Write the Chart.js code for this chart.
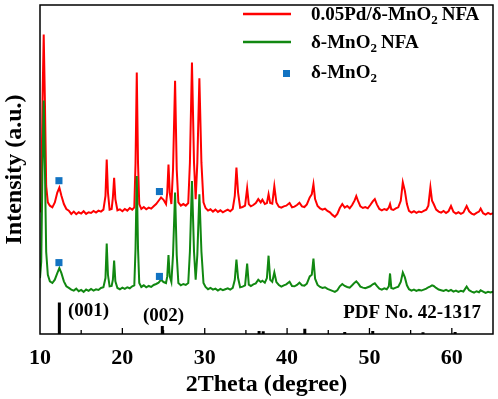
<!DOCTYPE html>
<html>
<head>
<meta charset="utf-8">
<script src="https://cdn.jsdelivr.net/npm/chart.js@4.4.1/dist/chart.umd.min.js"></script>
<style>
  html, body { margin: 0; padding: 0; background: #fff; }
  #wrap { width: 498px; height: 399px; }
</style>
</head>
<body>
<div id="wrap"><canvas id="xrdChart" width="498" height="399"></canvas></div>
<script>
  // 2θ grid (degree)
  const twoTheta = [
    10.0, 10.15, 10.3, 10.45, 10.6, 10.75, 10.95, 11.2, 11.5, 11.8,
    12.1, 12.35, 12.6, 12.9, 13.2, 13.5, 13.8, 14.1, 14.4, 14.7,
    15.0, 15.3, 15.6, 15.9, 16.2, 16.5, 16.8, 17.1, 17.4, 17.7,
    17.95, 18.1, 18.25, 18.45, 18.7, 18.85, 19.0, 19.15, 19.4, 19.7,
    20.0, 20.3, 20.6, 20.9, 21.2, 21.45, 21.6, 21.75, 21.9, 22.05,
    22.3, 22.6, 22.9, 23.2, 23.5, 23.8, 24.1, 24.4, 24.7, 25.0,
    25.3, 25.45, 25.6, 25.75, 25.95, 26.15, 26.4, 26.6, 26.8, 27.1,
    27.4, 27.7, 28.0, 28.2, 28.45, 28.7, 28.9, 29.1, 29.35, 29.6,
    29.85, 30.1, 30.4, 30.7, 31.0, 31.3, 31.6, 31.9, 32.2, 32.5,
    32.8, 33.1, 33.4, 33.65, 33.85, 34.05, 34.3, 34.6, 34.9, 35.15,
    35.35, 35.6, 35.9, 36.2, 36.5, 36.8, 37.0, 37.3, 37.55, 37.75,
    37.95, 38.2, 38.45, 38.7, 39.0, 39.3, 39.6, 39.9, 40.3, 40.6,
    40.9, 41.2, 41.5, 41.8, 42.1, 42.4, 42.75, 43.0, 43.2, 43.4,
    43.7, 44.0, 44.3, 44.6, 44.9, 45.2, 45.5, 45.8, 46.1, 46.4,
    46.7, 47.0, 47.3, 47.6, 47.9, 48.2, 48.4, 48.65, 48.9, 49.2,
    49.5, 49.8, 50.1, 50.4, 50.65, 50.9, 51.2, 51.5, 51.8, 52.1,
    52.35, 52.5, 52.65, 52.9, 53.2, 53.5, 53.8, 54.05, 54.3, 54.55,
    54.8, 55.1, 55.4, 55.7, 56.0, 56.3, 56.6, 56.9, 57.15, 57.4,
    57.6, 57.8, 58.1, 58.4, 58.7, 59.0, 59.3, 59.6, 59.9, 60.2,
    60.5, 60.8, 61.1, 61.4, 61.8, 62.1, 62.4, 62.7, 63.0, 63.3,
    63.5, 63.8, 64.1, 64.4, 64.7, 65.0
  ];

  // 0.05Pd/δ-MnO2 NFA (offset upward)
  const pdIntensity = [
    37, 40, 70, 91, 70, 45, 40, 39, 38.5, 40,
    43, 44.5, 42, 39.5, 38, 37.5, 36.5, 37.2, 36.4, 37,
    36.6, 37.3, 36.5, 37, 36.8, 37.4, 36.9, 37.5, 37.2, 37.8,
    42, 53, 43, 37.8, 38, 41.5, 47.5, 41, 37.6, 37.9,
    37.3, 38, 37.5, 38.3, 37.8, 38.5, 52, 79.5, 52, 39.5,
    38, 38.6, 37.9, 38.4, 38.1, 38.8, 39.5, 40.5, 41.5, 40.8,
    39.5, 43, 51.5, 43, 39.5, 50, 77, 50, 40, 39,
    39.5, 39, 39.8, 52, 82.5, 52, 41, 52, 77.7, 52,
    40, 38.3, 37.5, 37.9, 37.2, 37.8, 37.1, 37.6, 37, 37.4,
    37.8, 37.3, 38, 42, 50.6, 43, 38.4, 38.6, 39, 44.3,
    39.5, 38.8, 39.2, 39.8, 41, 40, 40.8, 39.5, 39.8, 42.5,
    39.8, 39.6, 44.9, 40, 38.7, 38.4, 38.8, 39, 39.8, 38.5,
    38.7, 39.2, 39.9, 38.8, 38.6, 39.4, 41.5, 42.5, 45.5, 41,
    38.9, 38.2, 37.8, 38.1, 37.4, 37, 36.2, 35.6, 36.5, 38.3,
    39.5, 38.4, 38.9, 38.2, 39.2, 40.6, 41.9, 40.2, 38.8, 38.3,
    38.6, 38.2, 39.2, 40.3, 41, 39.4, 38, 37.6, 38, 37.7,
    38.4, 39.5, 37.9, 37.7, 38.2, 38.5, 40.5, 46.1, 43.5, 39.5,
    37.4, 36.9, 37.3, 36.8, 37.2, 37, 37.4, 37.8, 39, 44.6,
    40.5, 39.5, 37.8, 37.2, 36.9, 37.4, 36.8, 37.3, 38.9, 37.1,
    36.6, 37, 36.5, 36.9, 38.9, 37.3, 36.6, 36.3, 36.8, 37.2,
    38.1, 36.7, 36.3, 36.8, 36.4, 36.7
  ];

  // δ-MnO2 NFA
  const mnIntensity = [
    17, 22, 50, 71, 50, 25, 18, 16, 15.5, 16.5,
    18.5, 20, 18.5, 16, 14.5, 14, 13.5, 13.2, 13.8, 13,
    13.4, 12.8, 13.5, 13.1, 13.7, 13.2, 13.6, 13.4, 14, 14.2,
    17, 27.5, 18, 14.5, 14.6, 16.5, 22.3, 16, 14, 13.6,
    14.1, 13.7, 14.2, 13.9, 14.5, 14.8, 26, 48, 26, 15.5,
    14.3, 14.8, 14.2, 14.6, 14.3, 14.9, 15.2, 15.6, 16.5, 15.8,
    15.5, 17.5, 24, 17.5, 15.8, 24, 43, 24, 15.5, 14.8,
    15.2, 14.9, 15.5, 25, 46.5, 25, 16.5, 24, 42.5, 25,
    15.5, 14.3, 13.6, 14, 13.5, 13.8, 13.2, 13.7, 13.3, 13.6,
    13.9, 13.5, 14, 16.5, 22.6, 17, 14.2, 14.4, 14.8, 21.4,
    15, 14.6, 15.1, 15.4, 16.5, 15.8, 16.2, 15.6, 17, 23.8,
    16.5, 15.9, 18.7, 15.8, 14.9, 14.4, 14.8, 15.1, 15.9, 14.6,
    14.5, 14.9, 15.6, 14.8, 14.7, 15.3, 17.5, 18, 22.9, 16.8,
    14.9, 14.3, 14, 14.2, 13.7, 13.4, 13.1, 12.8, 13.3, 14.5,
    15.2, 14.6, 14.3, 14.1, 14.8, 15.6, 16, 15.3, 14.4, 14.1,
    13.9, 14.2, 14.5, 15.1, 15.4, 14.6, 13.8, 13.5, 13.9, 13.6,
    14.5, 18.4, 14, 13.8, 14.1, 14.4, 15.8, 18.7, 17.2, 14.8,
    13.6, 13.2, 13.5, 13.1, 13.4, 13.2, 13.5, 13.8, 14.2, 14.5,
    14.8, 14.6, 14, 13.5, 13.3, 13.1, 13.4, 13, 13.4, 12.9,
    13.2, 12.8, 13.1, 12.9, 14.4, 13.3, 12.9, 12.6, 13, 12.7,
    13.3, 12.9, 12.5, 12.8, 12.6, 12.9
  ];

  // PDF No. 42-1317 reference lines
  const pdfPositions = [12.35, 24.85, 36.6, 37.1, 42.15, 47.0, 50.4, 56.5, 60.4];
  const pdfHeights = [9.6, 2.4, 0.9, 0.8, 1.6, 0.6, 0.9, 0.5, 0.6];

  // δ-MnO2 markers
  const markerTheta = [12.3, 24.5, 12.3, 24.5];
  const markerIntensity = [46.6, 43.3, 21.7, 17.5];

  const seriesNames = ['0.05Pd/δ-MnO', 'δ-MnO', 'δ-MnO'];
  const xTickValues = [10, 20, 30, 40, 50, 60];

  const RED = '#ff0000';
  const GREEN = '#118811';
  const BLUE = '#1273c2';
  const SERIF = '"Liberation Serif", "Times New Roman", serif';

  const toPoints = (xs, ys) => xs.map((x, i) => ({ x: x, y: ys[i] }));
  let pdfPoints = [];
  pdfPositions.forEach((p, i) => {
    pdfPoints.push({ x: p, y: 0 }, { x: p, y: pdfHeights[i] }, { x: p, y: null });
  });

  // frame, inward ticks, annotations and legend
  const decor = {
    id: 'decor',
    afterDraw(chart) {
      const ctx = chart.ctx;
      const a = chart.chartArea;
      const xs = chart.scales.x;
      ctx.save();
      ctx.strokeStyle = '#000';
      ctx.lineWidth = 1.5;
      ctx.strokeRect(a.left, a.top, a.right - a.left, a.bottom - a.top);

      ctx.lineWidth = 1.3;
      for (let v = 15; v < 65; v += 5) {
        const px = xs.getPixelForValue(v);
        const len = v % 10 === 0 ? 6 : 4;
        ctx.beginPath();
        ctx.moveTo(px, a.bottom);
        ctx.lineTo(px, a.bottom - len);
        ctx.stroke();
      }

      ctx.fillStyle = '#000';
      ctx.font = 'bold 19px ' + SERIF;
      ctx.textBaseline = 'middle';
      ctx.textAlign = 'left';
      ctx.fillText('(001)', 68, 311);
      ctx.fillText('(002)', 143, 316);
      ctx.textAlign = 'right';
      ctx.fillText('PDF No. 42-1317', 481, 313);

      // legend
      const drawName = (x, y, base, tail) => {
        ctx.textAlign = 'left';
        ctx.font = 'bold 19px ' + SERIF;
        ctx.fillText(base, x, y);
        let w = ctx.measureText(base).width;
        ctx.font = 'bold 13px ' + SERIF;
        ctx.fillText('2', x + w, y + 6);
        w += ctx.measureText('2').width;
        if (tail) {
          ctx.font = 'bold 19px ' + SERIF;
          ctx.fillText(tail, x + w + 4, y);
        }
      };
      ctx.lineWidth = 2.5;
      ctx.strokeStyle = RED;
      ctx.beginPath(); ctx.moveTo(243, 14); ctx.lineTo(291, 14); ctx.stroke();
      ctx.strokeStyle = GREEN;
      ctx.beginPath(); ctx.moveTo(243, 42); ctx.lineTo(291, 42); ctx.stroke();
      ctx.fillStyle = BLUE;
      ctx.fillRect(283, 70, 7, 7);
      ctx.fillStyle = '#000';
      drawName(311, 15, seriesNames[0], 'NFA');
      drawName(311, 43, seriesNames[1], 'NFA');
      drawName(311, 73, seriesNames[2], '');
      ctx.restore();
    }
  };

  const ctx = document.getElementById('xrdChart').getContext('2d');
  const xrdChart = new Chart(ctx, {
    type: 'line',
    data: {
      datasets: [
        {
          label: '0.05Pd/δ-MnO2 NFA',
          data: toPoints(twoTheta, pdIntensity),
          borderColor: RED,
          borderWidth: 2,
          pointRadius: 0,
          tension: 0,
          order: 2
        },
        {
          label: 'δ-MnO2 NFA',
          data: toPoints(twoTheta, mnIntensity),
          borderColor: GREEN,
          borderWidth: 2,
          pointRadius: 0,
          tension: 0,
          order: 1
        },
        {
          label: 'PDF',
          data: pdfPoints,
          borderColor: '#000',
          borderWidth: 3,
          pointRadius: 0,
          spanGaps: false,
          order: 3
        },
        {
          type: 'scatter',
          label: 'δ-MnO2',
          data: toPoints(markerTheta, markerIntensity),
          pointStyle: 'rect',
          pointRadius: 5,
          backgroundColor: BLUE,
          borderWidth: 0,
          order: 0
        }
      ]
    },
    options: {
      responsive: false,
      animation: false,
      layout: { padding: { top: 2, right: 4, left: 0, bottom: 0 } },
      plugins: {
        legend: { display: false },
        tooltip: { enabled: false }
      },
      scales: {
        x: {
          type: 'linear',
          min: 10,
          max: 65,
          grid: { display: false },
          border: { display: false },
          afterBuildTicks: s => { s.ticks = xTickValues.map(v => ({ value: v })); },
          afterFit: s => { s.height = 65; },
          ticks: {
            color: '#000',
            padding: 3,
            font: { family: SERIF, size: 22, weight: 'bold' }
          },
          title: {
            display: true,
            text: '2Theta (degree)',
            color: '#000',
            padding: { top: 0, bottom: 0 },
            font: { family: SERIF, size: 24, weight: 'bold' }
          }
        },
        y: {
          min: 0,
          max: 100,
          grid: { display: false },
          border: { display: false },
          ticks: { display: false },
          afterFit: s => { s.width = 40; },
          title: {
            display: true,
            text: 'Intensity (a.u.)',
            color: '#000',
            padding: { top: 0, bottom: 0 },
            font: { family: SERIF, size: 24, weight: 'bold' }
          }
        }
      }
    },
    plugins: [decor]
  });
</script>
</body>
</html>
